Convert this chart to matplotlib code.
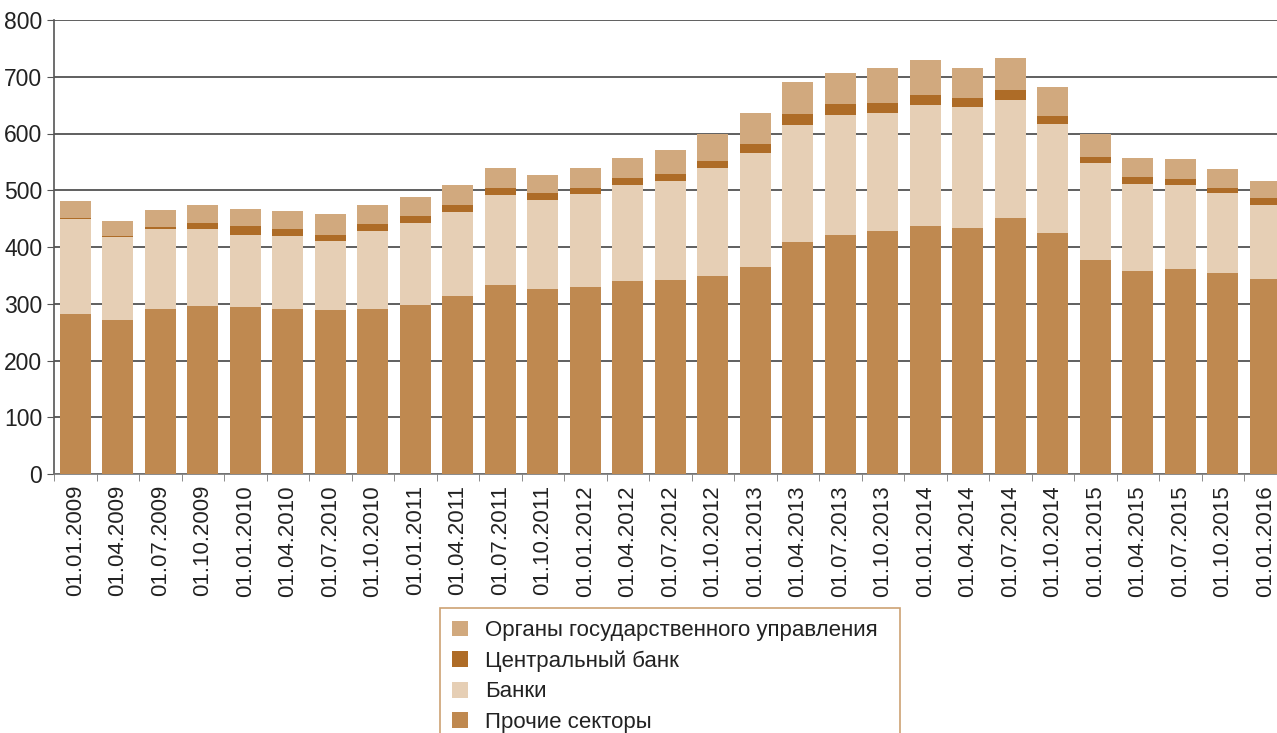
import matplotlib
matplotlib.use('Agg')
import matplotlib.pyplot as plt
import numpy as np

plt.rcParams['font.family'] = ['Liberation Sans', 'DejaVu Sans']

dates = ['01.01.2009', '01.04.2009', '01.07.2009', '01.10.2009',
         '01.01.2010', '01.04.2010', '01.07.2010', '01.10.2010',
         '01.01.2011', '01.04.2011', '01.07.2011', '01.10.2011',
         '01.01.2012', '01.04.2012', '01.07.2012', '01.10.2012',
         '01.01.2013', '01.04.2013', '01.07.2013', '01.10.2013',
         '01.01.2014', '01.04.2014', '01.07.2014', '01.10.2014',
         '01.01.2015', '01.04.2015', '01.07.2015', '01.10.2015',
         '01.01.2016']

# Прочие секторы
other = [282, 271, 290, 296, 294, 290, 289, 290, 298, 313, 333, 326, 329, 340,
         342, 349, 365, 409, 421, 429, 437, 433, 451, 424, 377, 357, 361, 354, 343]
# Банки
banks = [167, 146, 141, 136, 127, 129, 121, 139, 144, 148, 158, 157, 164, 169,
         174, 190, 200, 206, 212, 207, 213, 213, 208, 193, 171, 154, 148, 141, 131]
# Центральный банк
cb = [2, 2, 5, 10, 16, 12, 11, 12, 12, 13, 13, 12, 11, 12,
      12, 12, 16, 19, 19, 18, 18, 16, 18, 14, 10, 12, 10, 9, 12]
# Органы государственного управления
gov = [30, 27, 30, 32, 30, 32, 37, 33, 34, 35, 35, 32, 35, 36,
       43, 48, 55, 57, 55, 62, 61, 53, 56, 51, 41, 34, 36, 33, 30]

c_other = '#bf8950'
c_banks = '#e6cfb5'
c_cb = '#ae6c27'
c_gov = '#d1a97e'

fig = plt.figure(figsize=(12.77, 7.33), dpi=100)
ax = fig.add_axes([54 / 1277, 259 / 733, 29 * 42.5 / 1277, 454 / 733])

x = np.arange(len(dates))
other = np.array(other)
banks = np.array(banks)
cb = np.array(cb)
gov = np.array(gov)
w = 0.73
b1 = ax.bar(x, other, w, color=c_other, zorder=3)
b2 = ax.bar(x, banks, w, bottom=other, color=c_banks, zorder=3)
b3 = ax.bar(x, cb, w, bottom=other + banks, color=c_cb, zorder=3)
b4 = ax.bar(x, gov, w, bottom=other + banks + cb, color=c_gov, zorder=3)

ax.set_xlim(-0.5, len(dates) - 0.5)
ax.set_ylim(0, 800)
ax.set_yticks(range(0, 801, 100))
ax.tick_params(axis='y', labelsize=16.5, length=5, color='#555555', labelcolor='#222222')
ax.set_xticks(x)
ax.set_xticklabels(dates, rotation=90, fontsize=16, color='#222222')
ax.set_xticks(np.arange(-0.5, len(dates), 1), minor=True)
ax.tick_params(axis='x', which='major', length=0, pad=8)
ax.tick_params(axis='x', which='minor', length=5, color='#777777')
ax.grid(axis='y', color='#444444', linewidth=1.2, zorder=0)
ax.set_axisbelow(True)
for s in ['top', 'right']:
    ax.spines[s].set_visible(False)
ax.spines['left'].set_color('#555555')
ax.spines['bottom'].set_color('#777777')
ax.spines['left'].set_linewidth(1.2)
ax.spines['bottom'].set_linewidth(1.2)

leg = fig.legend([b4, b3, b2, b1],
                 ['Органы государственного управления', 'Центральный банк',
                  'Банки', 'Прочие секторы'],
                 loc='upper left',
                 bbox_to_anchor=(440 / 1277, 1 - 608 / 733 - 0.01, 460 / 1277, 0.01),
                 mode='expand', fontsize=16, frameon=True, fancybox=False,
                 handlelength=0.72, handleheight=0.72, handletextpad=0.75,
                 labelspacing=0.42, borderpad=0.55, borderaxespad=0)
leg.get_frame().set_edgecolor('#c08a50')
leg.get_frame().set_linewidth(1.2)
for t in leg.get_texts():
    t.set_color('#222222')

fig.savefig('out.png', dpi=100)
